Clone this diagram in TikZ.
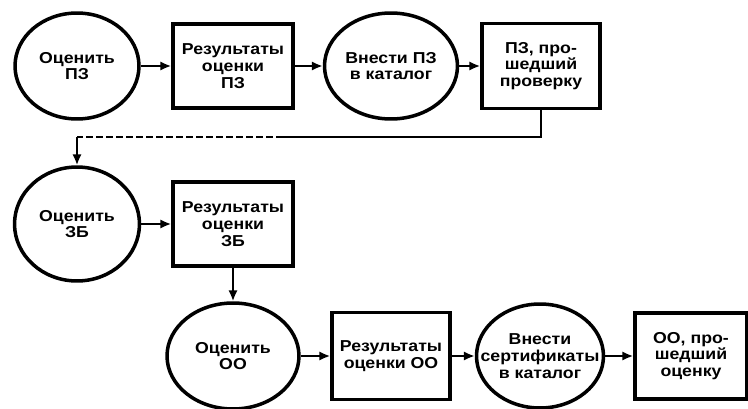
\documentclass[tikz,border=0pt]{standalone}
\usepackage{fontspec}
\setmainfont{Liberation Sans}[FakeStretch=1.12]
\usetikzlibrary{shapes.geometric, arrows.meta}

\begin{document}
\begin{tikzpicture}[x=0.02cm, y=-0.02cm,
	stage/.style={draw, ellipse, line width=2pt, inner sep=0pt},
	result/.style={draw, rectangle, line width=2pt, align=center, inner sep=1pt, font=\bfseries\fontsize{9}{9.5}\selectfont},
	caption/.style={align=center, font=\bfseries\fontsize{9}{9.5}\selectfont},
	flow/.style={line width=1.4pt, -{Latex[length=2.2mm, width=1.9mm]}}]

	\useasboundingbox (0,0) rectangle (748,409);

% Draw stages and results.

	%protection profile
	\node[stage, minimum width=2.48cm, minimum height=2.12cm, label={[caption]center:Оценить\\ПЗ}] (evalPP) at (77,66) {};
	\node[result, minimum width=2.4cm, minimum height=1.68cm] (resPP) at (233,66) {Результаты\\оценки\\ПЗ};
	\node[stage, minimum width=2.66cm, minimum height=2.12cm, label={[caption]center:Внести ПЗ\\в каталог}] (catPP) at (391,66) {};
	\node[result, minimum width=2.36cm, minimum height=1.7cm] (donePP) at (541,66) {ПЗ, про-\\шедший\\проверку};

	%security target
	\node[stage, minimum width=2.5cm, minimum height=2.28cm, label={[caption]center:Оценить\\ЗБ}] (evalST) at (77,224) {};
	\node[result, minimum width=2.4cm, minimum height=1.68cm] (resST) at (233,224) {Результаты\\оценки\\ЗБ};

	%target of evaluation
	\node[stage, minimum width=2.64cm, minimum height=2.12cm, label={[caption]center:Оценить\\ОО}] (evalTOE) at (233,356) {};
	\node[result, minimum width=2.36cm, minimum height=1.74cm] (resTOE) at (391,356) {Результаты\\оценки ОО};
	\node[stage, minimum width=2.54cm, minimum height=2.08cm, label={[caption]center:Внести\\сертификаты\\в каталог}] (catCert) at (540,356) {};
	\node[result, minimum width=2.24cm, minimum height=1.72cm] (doneTOE) at (691,356) {ОО, про-\\шедший\\оценку};

% Draw arrows.

	\draw[flow] (evalPP) -- (resPP);
	\draw[flow] (resPP) -- (catPP);
	\draw[flow] (catPP) -- (donePP);

	\coordinate (dashStart) at (283,137);
	\coordinate (turn) at (77,137);
	\draw[line width=1.4pt] (donePP.south) |- (dashStart);
	\draw[line width=1.4pt, dash pattern=on 4pt off 1.7pt] (dashStart) -- (turn);
	\draw[flow] (turn) -- (evalST.north);

	\draw[flow] (evalST) -- (resST);
	\draw[flow] (resST) -- (evalTOE);

	\draw[flow] (evalTOE) -- (resTOE);
	\draw[flow] (resTOE) -- (catCert);
	\draw[flow] (catCert) -- (doneTOE);

\end{tikzpicture}
\end{document}
